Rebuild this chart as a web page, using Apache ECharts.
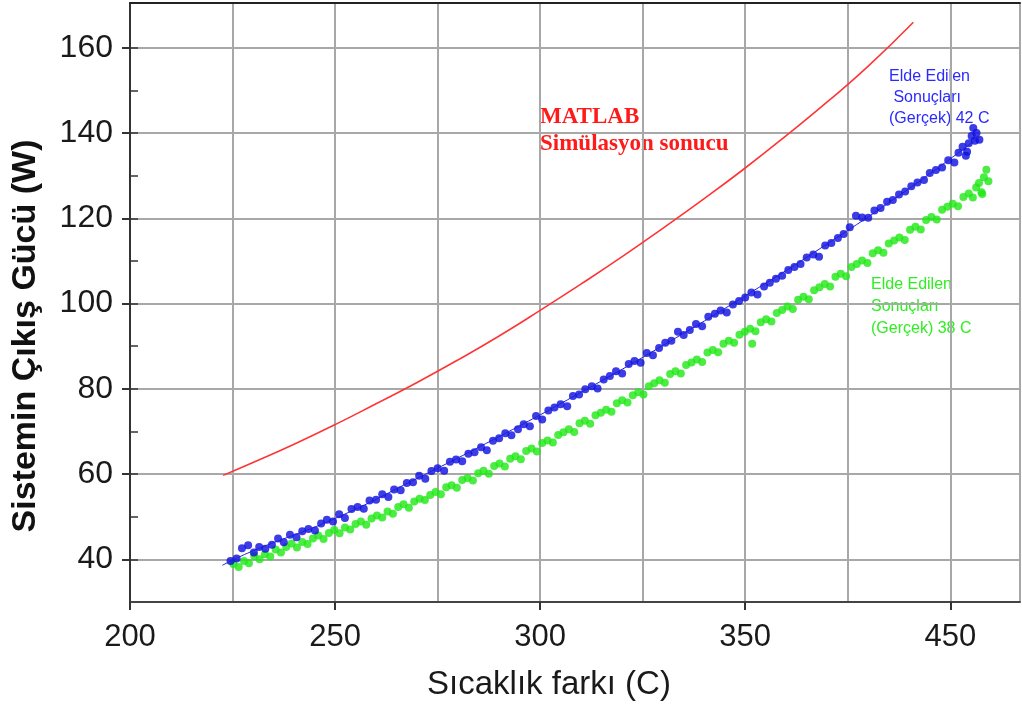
<!DOCTYPE html>
<html lang="tr">
<head>
    <meta charset="UTF-8">
    <title>Sistemin Çıkış Gücü</title>
    <style>
        html, body { margin: 0; padding: 0; background: #fff; }
        #main { width: 1022px; height: 706px; }
    </style>
</head>
<body>
<div id="main"></div>
<script src="https://cdn.jsdelivr.net/npm/echarts@6/dist/echarts.min.js"></script>
<script>
    // eksen etiketleri (orijinal grafikte 400 yerine "450" yazıyor)
    var xTicks = [200, 250, 300, 350, 400];
    var xTickLabels = ['200', '250', '300', '350', '450'];
    var yTicks = [40, 60, 80, 100, 120, 140, 160];
    var yInnerTicks = [40, 50, 60, 70, 80, 90, 100, 110, 120, 130, 140, 150, 160];

    // MATLAB simülasyon eğrisi
    var matlabX = [222.7, 230, 240, 250, 260, 270, 280, 290, 300, 310, 320, 330, 340, 350, 360, 370, 380, 391];
    var matlabY = [59.7, 62.7, 67.0, 71.6, 76.5, 81.5, 86.8, 92.4, 98.4, 104.6, 111.0, 117.7, 124.6, 131.8, 139.4, 147.3, 155.7, 166.0];

    // 42 C ölçümlerinden geçen ince çizgi
    var fit42X = [222.5, 230, 250, 270, 290, 310, 330, 350, 370, 390, 407];
    var fit42Y = [38.6, 42.0, 49.6, 59.0, 68.8, 79.2, 90.2, 101.8, 114.0, 127.0, 139.0];

    // Elde edilen sonuçlar (gerçek) 42 C
    var olcum42 = [
        [224.5, 39.6], [226.0, 40.2], [227.3, 42.6], [228.8, 43.3], [230.2, 41.6], [231.5, 42.9], [233.0, 42.5],
        [234.6, 43.4], [236.1, 44.9], [237.5, 44.0], [239.0, 45.8], [240.6, 45.2], [242.0, 46.6], [243.5, 47.1],
        [245.1, 46.8], [246.6, 48.4], [248.0, 49.3], [249.5, 48.9], [251.0, 50.6], [252.4, 49.7], [254.0, 51.8],
        [255.5, 52.3], [257.0, 51.9], [258.4, 53.8], [260.0, 54.0], [261.5, 55.3], [263.0, 54.6], [264.4, 56.4],
        [266.0, 56.2], [267.5, 57.9], [269.0, 58.1], [270.5, 59.6], [272.0, 58.9], [273.5, 60.7], [275.0, 61.4],
        [276.6, 60.8], [278.0, 62.9], [279.5, 63.4], [281.0, 63.0], [282.5, 64.8], [284.0, 65.1], [285.6, 66.3],
        [287.0, 65.6], [288.5, 67.8], [290.0, 68.4], [291.5, 69.6], [293.0, 69.1], [294.6, 70.5], [296.0, 71.7],
        [297.5, 71.2], [299.0, 73.6], [300.5, 72.8], [302.0, 74.9], [303.5, 75.6], [305.0, 76.4], [306.6, 75.9],
        [308.0, 78.3], [309.5, 78.7], [311.0, 79.9], [312.6, 80.6], [314.0, 80.1], [315.5, 82.2], [317.0, 83.0],
        [318.5, 84.1], [320.0, 83.6], [321.6, 85.8], [323.0, 86.5], [324.5, 86.1], [326.0, 88.4], [327.5, 87.9],
        [329.0, 89.6], [330.5, 90.8], [332.0, 91.3], [333.6, 93.4], [335.0, 92.6], [336.5, 93.8], [338.0, 95.2],
        [339.5, 94.7], [341.0, 96.9], [342.6, 97.6], [344.0, 98.4], [345.5, 97.9], [347.0, 99.8], [348.5, 100.6],
        [350.0, 101.4], [351.5, 102.6], [353.0, 102.1], [354.6, 104.0], [356.0, 104.9], [357.5, 105.8], [359.0, 106.5],
        [360.5, 107.9], [362.0, 108.6], [363.5, 109.3], [365.0, 110.8], [366.6, 111.5], [368.0, 111.0], [369.5, 113.6],
        [371.0, 114.2], [372.6, 115.4], [374.0, 116.3], [375.5, 117.9], [377.0, 120.6], [378.5, 120.2], [380.0, 120.1],
        [381.5, 121.8], [383.0, 122.4], [384.6, 123.9], [386.0, 124.3], [387.5, 125.6], [389.0, 126.3], [390.5, 127.5],
        [392.0, 128.4], [393.6, 129.0], [395.0, 130.6], [396.5, 131.3], [398.0, 131.9], [399.5, 133.6], [401.0, 133.1],
        [402.0, 135.4], [403.0, 136.8], [403.8, 134.7], [404.1, 135.6], [404.5, 137.6], [405.2, 139.3], [405.6, 141.2],
        [406.0, 138.2], [406.4, 140.0], [407.1, 138.4]
    ];

    // Elde edilen sonuçlar (gerçek) 38 C
    var olcum38 = [
        [225.2, 38.9], [226.5, 38.2], [227.8, 39.6], [229.0, 39.1], [230.3, 40.8], [231.6, 40.0], [232.9, 41.2],
        [234.2, 40.7], [235.5, 42.3], [236.8, 41.6], [238.1, 42.9], [239.4, 43.7], [240.7, 42.8], [242.0, 44.1],
        [243.3, 43.6], [244.6, 44.9], [245.9, 45.6], [247.2, 44.8], [248.5, 46.2], [249.8, 46.9], [251.1, 46.1],
        [252.4, 47.5], [253.7, 47.0], [255.0, 48.3], [256.3, 48.9], [257.6, 48.1], [258.9, 49.6], [260.2, 50.3],
        [261.5, 49.8], [262.8, 51.2], [264.1, 50.7], [265.4, 52.3], [266.7, 52.9], [268.0, 52.1], [269.3, 53.6],
        [270.6, 54.2], [271.9, 53.9], [273.2, 55.1], [274.5, 55.8], [275.8, 55.3], [277.1, 56.9], [278.4, 57.4],
        [279.7, 56.8], [281.0, 58.6], [282.3, 59.1], [283.6, 58.5], [284.9, 60.2], [286.2, 60.8], [287.5, 60.1],
        [288.8, 61.9], [290.1, 62.5], [291.4, 61.8], [292.7, 63.6], [294.0, 64.2], [295.3, 63.5], [296.6, 65.4],
        [297.9, 66.0], [299.2, 65.3], [300.5, 67.3], [301.8, 67.9], [303.1, 67.4], [304.4, 69.2], [305.7, 69.8],
        [307.0, 70.5], [308.3, 69.9], [309.6, 71.9], [310.9, 72.5], [312.2, 71.8], [313.5, 73.8], [314.8, 74.4],
        [316.1, 75.1], [317.4, 74.6], [318.7, 76.6], [320.0, 77.3], [321.3, 76.8], [322.6, 78.5], [323.9, 79.2],
        [325.2, 78.7], [326.5, 80.6], [327.8, 81.3], [329.1, 82.0], [330.4, 81.4], [331.7, 83.5], [333.0, 84.1],
        [334.3, 83.6], [335.6, 85.6], [336.9, 86.2], [338.2, 86.9], [339.5, 86.3], [340.8, 88.5], [342.1, 89.1],
        [343.4, 88.6], [344.7, 90.6], [346.0, 91.3], [347.3, 90.8], [348.6, 92.7], [349.9, 93.4], [351.2, 94.1],
        [351.7, 90.6], [352.5, 93.5], [353.8, 95.6], [355.1, 96.3], [356.4, 95.8], [357.7, 97.8], [359.0, 98.5],
        [360.3, 99.3], [361.6, 98.7], [362.9, 100.9], [364.2, 101.6], [365.5, 101.0], [366.8, 103.1], [368.1, 103.8],
        [369.4, 104.6], [370.7, 104.0], [372.0, 106.3], [373.3, 107.0], [374.6, 106.4], [375.9, 108.6], [377.2, 109.3],
        [378.5, 110.1], [379.8, 109.5], [381.1, 111.8], [382.4, 112.5], [383.7, 111.9], [385.0, 114.1], [386.3, 114.8],
        [387.6, 115.5], [388.9, 114.9], [390.2, 117.3], [391.5, 118.0], [392.8, 117.4], [394.1, 119.6], [395.4, 120.3],
        [396.7, 119.7], [398.0, 122.0], [399.3, 122.7], [400.6, 123.4], [401.9, 122.8], [403.2, 125.0], [404.5, 125.8],
        [405.5, 124.9], [406.3, 127.2], [407.0, 128.3], [407.6, 126.1], [407.8, 125.7], [408.2, 129.6], [408.8, 131.4],
        [409.3, 128.7]
    ];

    function zip(xs, ys) {
        return xs.map(function (x, i) { return [x, ys[i]]; });
    }

    var gridColor = '#a8a8a8';
    var axisColor = '#333';
    var tickFont = 'Liberation Sans';

    var option = {
        backgroundColor: '#fff',
        animation: false,
        grid: { left: 130, right: 2, top: 3, bottom: 104, containLabel: false },
        xAxis: [{
            type: 'value', min: 200, max: 417, position: 'bottom',
            axisLine: { show: true, onZero: false, lineStyle: { color: '#444', width: 2 } },
            axisTick: { show: true, customValues: xTicks, length: 8, lineStyle: { color: axisColor, width: 2 } },
            axisLabel: {
                customValues: xTicks, margin: 20, fontSize: 31, color: '#1a1a1a', fontFamily: tickFont,
                formatter: function (v) { return xTickLabels[xTicks.indexOf(v)]; }
            },
            splitLine: { show: false }
        }, {
            // dikey ızgara çizgileri her 25 birimde
            type: 'value', min: 200, max: 417, interval: 25, position: 'bottom',
            axisLine: { show: false }, axisTick: { show: false }, axisLabel: { show: false },
            splitLine: { show: true, lineStyle: { color: gridColor, width: 2 } }
        }, {
            type: 'value', min: 200, max: 417, position: 'top',
            axisLine: { show: true, lineStyle: { color: '#222', width: 2 } },
            axisTick: { show: false }, axisLabel: { show: false }, splitLine: { show: false }
        }],
        yAxis: [{
            type: 'value', min: 30, max: 170.5, position: 'left',
            axisLine: { show: true, lineStyle: { color: axisColor, width: 2 } },
            axisTick: { show: true, customValues: yTicks, length: 8, lineStyle: { color: axisColor, width: 2 } },
            axisLabel: { customValues: yTicks, margin: 17, fontSize: 32, color: '#1a1a1a', fontFamily: tickFont },
            splitLine: { show: true, lineStyle: { color: gridColor, width: 2 } }
        }, {
            type: 'value', min: 30, max: 170.5, position: 'left',
            axisLine: { show: false },
            axisTick: { show: true, inside: true, customValues: yInnerTicks, length: 8, lineStyle: { color: axisColor, width: 1.5 } },
            axisLabel: { show: false }, splitLine: { show: false }
        }],
        graphic: [
            {
                type: 'text', x: 26, y: 336, rotation: Math.PI / 2,
                style: { text: 'Sistemin Çıkış Gücü (W)', font: 'bold 34px "Liberation Sans", Arial', fill: '#111', align: 'center', verticalAlign: 'middle' }
            },
            {
                type: 'text', x: 549, y: 685,
                style: { text: 'Sıcaklık farkı (C)', font: '33px "Liberation Sans", Arial', fill: '#1a1a1a', align: 'center', verticalAlign: 'middle' }
            },
            {
                type: 'text', x: 540, y: 117,
                style: { text: 'MATLAB', font: 'bold 23px "Liberation Serif", serif', fill: '#ff1a1a', verticalAlign: 'middle' }
            },
            {
                type: 'text', x: 540, y: 144,
                style: { text: 'Simülasyon sonucu', font: 'bold 23px "Liberation Serif", serif', fill: '#ff1a1a', verticalAlign: 'middle' }
            },
            {
                type: 'text', x: 889, y: 66,
                style: { text: 'Elde Edilen\n Sonuçları\n(Gerçek) 42 C', font: '16px "Liberation Sans", Arial', lineHeight: 21, fill: '#2a2aff' }
            },
            {
                type: 'text', x: 871, y: 274,
                style: { text: 'Elde Edilen\nSonuçları\n(Gerçek) 38 C', font: '16px "Liberation Sans", Arial', lineHeight: 22, fill: '#2fee22' }
            }
        ],
        series: [{
            name: 'MATLAB Simülasyon sonucu',
            type: 'line',
            xAxisIndex: 0, yAxisIndex: 0,
            data: zip(matlabX, matlabY),
            smooth: true, showSymbol: false,
            lineStyle: { color: '#ff3535', width: 1.6 }
        }, {
            name: 'fit 42 C',
            type: 'line',
            xAxisIndex: 0, yAxisIndex: 0,
            data: zip(fit42X, fit42Y),
            smooth: true, showSymbol: false,
            lineStyle: { color: '#2020e0', width: 1 }
        }, {
            name: 'Gerçek 38 C',
            type: 'scatter',
            xAxisIndex: 0, yAxisIndex: 0,
            data: olcum38,
            symbolSize: 8,
            itemStyle: { color: '#1ee814' }
        }, {
            name: 'Gerçek 42 C',
            type: 'scatter',
            xAxisIndex: 0, yAxisIndex: 0,
            data: olcum42,
            symbolSize: 8,
            itemStyle: { color: '#0c0ce0' }
        }]
    };

    var myChart = echarts.init(document.getElementById('main'));
    myChart.setOption(option);
</script>
</body>
</html>
